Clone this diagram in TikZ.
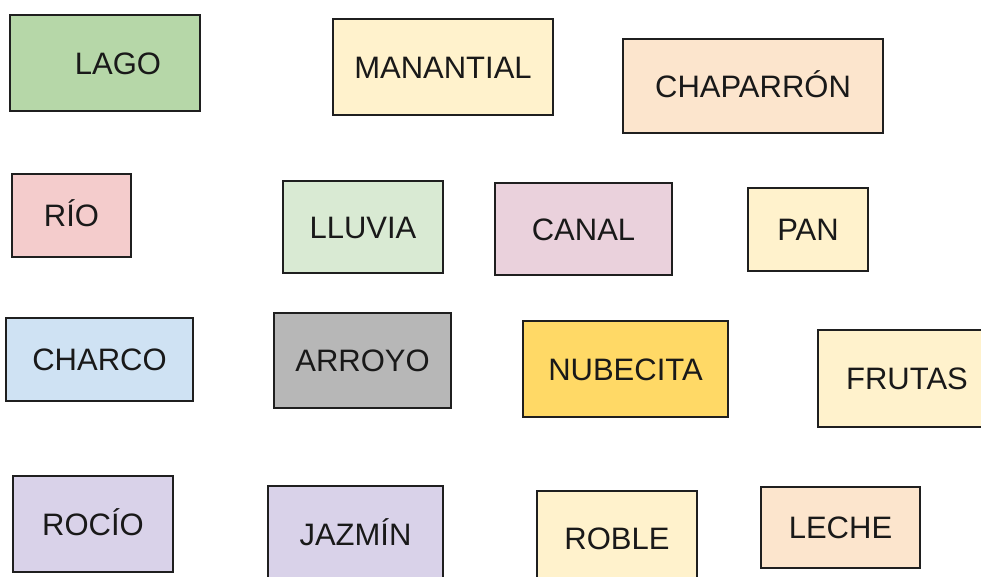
\documentclass[tikz,border=0pt]{standalone}
\usepackage{fontspec}
\setmainfont{Liberation Sans}
\definecolor{cGreenA}{HTML}{B6D7A8}
\definecolor{cGreenB}{HTML}{D9EAD3}
\definecolor{cYellowL}{HTML}{FFF2CC}
\definecolor{cYellowD}{HTML}{FFD966}
\definecolor{cOrange}{HTML}{FCE5CD}
\definecolor{cRed}{HTML}{F4CCCC}
\definecolor{cMagenta}{HTML}{EAD1DC}
\definecolor{cBlue}{HTML}{CFE2F3}
\definecolor{cGray}{HTML}{B7B7B7}
\definecolor{cPurple}{HTML}{D9D2E9}
\tikzset{
  wordbox/.style={draw=black!88, line width=2.2pt, rectangle, inner sep=0pt,
    text=black!90, font=\fontsize{31}{33}\selectfont, text height=22.5pt, text depth=0pt}
}
\begin{document}
\begin{tikzpicture}[x=1pt,y=-1pt]
\useasboundingbox (0,0) rectangle (981,576);
\clip (0,0) rectangle (981,576);
\node[wordbox, fill=cGreenA, minimum width=190, minimum height=96] (lago) at (105,63) {\hspace*{26pt}LAGO};
\node[wordbox, fill=cYellowL, minimum width=220, minimum height=96] (manantial) at (443,67) {MANANTIAL};
\node[wordbox, fill=cOrange, minimum width=260, minimum height=94] (chaparron) at (753,86) {CHAPARRÓN};
\node[wordbox, fill=cRed, minimum width=119, minimum height=83] (rio) at (71.5,215.5) {RÍO};
\node[wordbox, fill=cGreenB, minimum width=160, minimum height=92] (lluvia) at (363,227) {LLUVIA};
\node[wordbox, fill=cMagenta, minimum width=177, minimum height=92] (canal) at (583.5,229) {CANAL};
\node[wordbox, fill=cYellowL, minimum width=120, minimum height=83] (pan) at (808,229.5) {PAN};
\node[wordbox, fill=cBlue, minimum width=187, minimum height=83] (charco) at (99.5,359.5) {CHARCO};
\node[wordbox, fill=cGray, minimum width=177, minimum height=95] (arroyo) at (362.5,360.5) {ARROYO};
\node[wordbox, fill=cYellowD, minimum width=205, minimum height=96] (nubecita) at (625.5,369) {NUBECITA};
\node[wordbox, fill=cYellowL, minimum width=178, minimum height=97] (frutas) at (907,378.5) {FRUTAS};
\node[wordbox, fill=cPurple, minimum width=160, minimum height=96] (rocio) at (93,524) {ROCÍO};
\node[wordbox, fill=cPurple, minimum width=175, minimum height=96] (jazmin) at (355.5,534) {JAZMÍN};
\node[wordbox, fill=cYellowL, minimum width=160, minimum height=94] (roble) at (617,538) {ROBLE};
\node[wordbox, fill=cOrange, minimum width=159, minimum height=81] (leche) at (840.5,527.5) {LECHE};
\end{tikzpicture}
\end{document}
